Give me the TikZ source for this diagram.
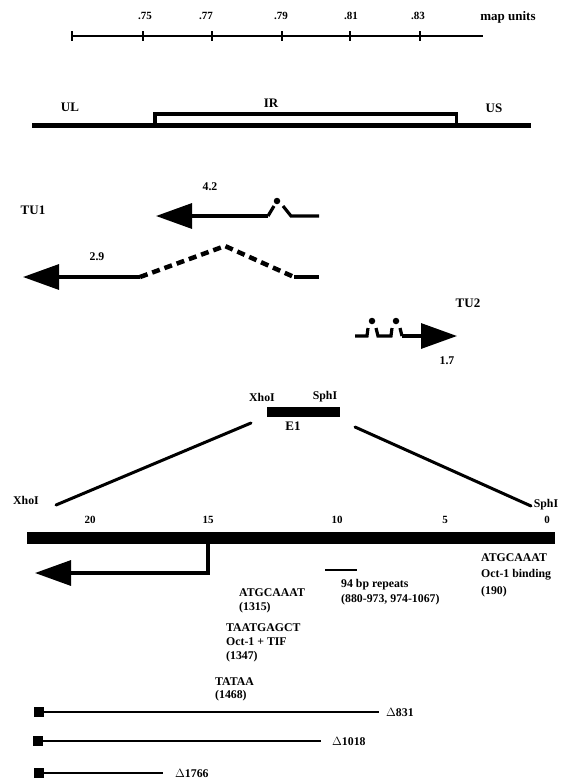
\documentclass[tikz,border=0pt]{standalone}
\usepackage{fontspec}
\setmainfont{Liberation Serif}
\usetikzlibrary{arrows.meta}
\begin{document}
\begin{tikzpicture}[x=1pt,y=-1pt,
  lbl/.style={font=\bfseries\fontsize{11.8}{13}\selectfont, inner sep=0pt},
  blbl/.style={font=\bfseries\fontsize{13}{15}\selectfont, inner sep=0pt},
  slbl/.style={font=\bfseries\fontsize{11}{12}\selectfont, inner sep=0pt},
  lft/.style={lbl, anchor=west},
  scaleln/.style={line width=1.4pt},
  tick/.style={line width=1.4pt},
  arr/.style={line width=3.2pt},
  dashedln/.style={line width=4.5pt, dash pattern=on 8pt off 5pt},
  bighead/.style={-{Triangle[length=36pt,width=25pt]}},
  tailln/.style={line width=3.2pt},
  delln/.style={line width=2pt},
  diag/.style={line width=3pt, line cap=round},
  dot/.style={circle, fill=black, inner sep=0pt, minimum size=6.5pt}
]
\useasboundingbox (0,0) rectangle (560,782);

% ---- map scale ----
\coordinate (s0) at (72,36);
\coordinate (s6) at (483,36);
\draw[scaleln] (s0) -- (s6);
\foreach \x in {72,143,212,282,350,420}{
  \draw[tick] (\x,31) -- (\x,41);
}
\node[slbl] (m75) at (145,16) {.75};
\node[slbl] (m77) at (206,16) {.77};
\node[slbl] (m79) at (281,16) {.79};
\node[slbl] (m81) at (351,16) {.81};
\node[slbl] (m83) at (418,16) {.83};
\node[blbl] (mu) at (508,17) {map units};

% ---- genome ----
\fill (32,122.5) rectangle (531,127.5);
\fill (153,112) rectangle (458,127.5);
\fill[white] (156.5,116) rectangle (454.5,123);
\node[blbl] (UL) at (70,107) {UL};
\node[blbl] (IR) at (271,103) {IR};
\node[blbl] (US) at (494,108) {US};

% ---- TU1 ----
\node[blbl] (TU1) at (33,210) {TU1};
\node[lbl] (l42) at (210,187) {4.2};
\coordinate (a42s) at (268,216);
\coordinate (a42t) at (156,216);
\draw[arr, bighead] (a42s) -- (a42t);
\draw[arr] (a42s) -- (274,206);
\node[dot] (d42) at (277,201) {};
\draw[arr] (283,206) -- (291,216) -- (319,216);

\node[lbl] (l29) at (97,257) {2.9};
\coordinate (a29s) at (140,277);
\coordinate (a29t) at (23,277);
\coordinate (a29p) at (225,246);
\coordinate (a29r) at (294,277);
\draw[arr, bighead] (a29s) -- (a29t);
\draw[dashedln] (a29s) -- (a29p) -- (a29r);
\draw[arr] (a29r) -- (319,277);

% ---- TU2 ----
\node[blbl] (TU2) at (468,303) {TU2};
\node[lbl] (l17) at (447,361) {1.7};
\draw[arr] (355,336) -- (367,336) -- (368,328);
\node[dot] (b1) at (372,321) {};
\draw[arr] (376,328) -- (378,336) -- (391,336) -- (392,328);
\node[dot] (b2) at (396,321) {};
\coordinate (a17s) at (402,336);
\coordinate (a17t) at (457,336);
\draw[arr] (400,328) -- (402,336);
\draw[arr, bighead] (a17s) -- (a17t);

% ---- E1 fragment ----
\node[lbl] (xh1) at (262,397) {XhoI};
\node[lbl] (sp1) at (325,397) {SphI};
\fill (267,407) rectangle (340,417);
\node[blbl] (E1) at (293,426) {E1};
\coordinate (dl1) at (251,423);
\coordinate (dl2) at (56,505);
\coordinate (dr1) at (355,427);
\coordinate (dr2) at (531,506);
\draw[diag] (dl1) -- (dl2);
\draw[diag] (dr1) -- (dr2);
\node[lbl] (xh2) at (26,500) {XhoI};
\node[lbl] (sp2) at (546,505) {SphI};

% ---- expanded map ----
\node[slbl] (k20) at (90,520) {20};
\node[slbl] (k15) at (208,520) {15};
\node[slbl] (k10) at (337,520) {10};
\node[slbl] (k5) at (445,520) {5};
\node[slbl] (k0) at (547,520) {0};
\fill (27,532) rectangle (555,544);
\coordinate (ts) at (208,544);
\coordinate (tc) at (208,573);
\coordinate (tt) at (35,573);
\draw[tailln, bighead] (ts) -- (tc) -- (tt);
\coordinate (r1) at (325,570);
\coordinate (r2) at (357,570);
\draw[line width=2.5pt] (r1) -- (r2);

\node[lft] (rp1) at (341,585) {94 bp repeats};
\node[lft] (rp2) at (341,600) {(880-973, 974-1067)};
\node[lft] (o1) at (481,558) {ATGCAAAT};
\node[lft] (o2) at (481,575) {Oct-1 binding};
\node[lft] (o3) at (481,592) {(190)};
\node[lft] (p1) at (239,593) {ATGCAAAT};
\node[lft] (p2) at (239,608) {(1315)};
\node[lft] (q1) at (226,628) {TAATGAGCT};
\node[lft] (q2) at (226,642) {Oct-1 + TIF};
\node[lft] (q3) at (226,657) {(1347)};
\node[lft] (ta1) at (215,682) {TATAA};
\node[lft] (ta2) at (215,696) {(1468)};

% ---- deletions ----
\fill (34,707) rectangle (44,717);
\draw[delln] (44,712) -- (379,712);
\node[lft] (d831) at (386,712) {$\Delta$831};
\fill (33,736) rectangle (43,746);
\draw[delln] (43,741) -- (321,741);
\node[lft] (d1018) at (332,741) {$\Delta$1018};
\fill (34,768) rectangle (44,778);
\draw[delln] (44,773) -- (163,773);
\node[lft] (d1766) at (175,773) {$\Delta$1766};
\end{tikzpicture}
\end{document}
